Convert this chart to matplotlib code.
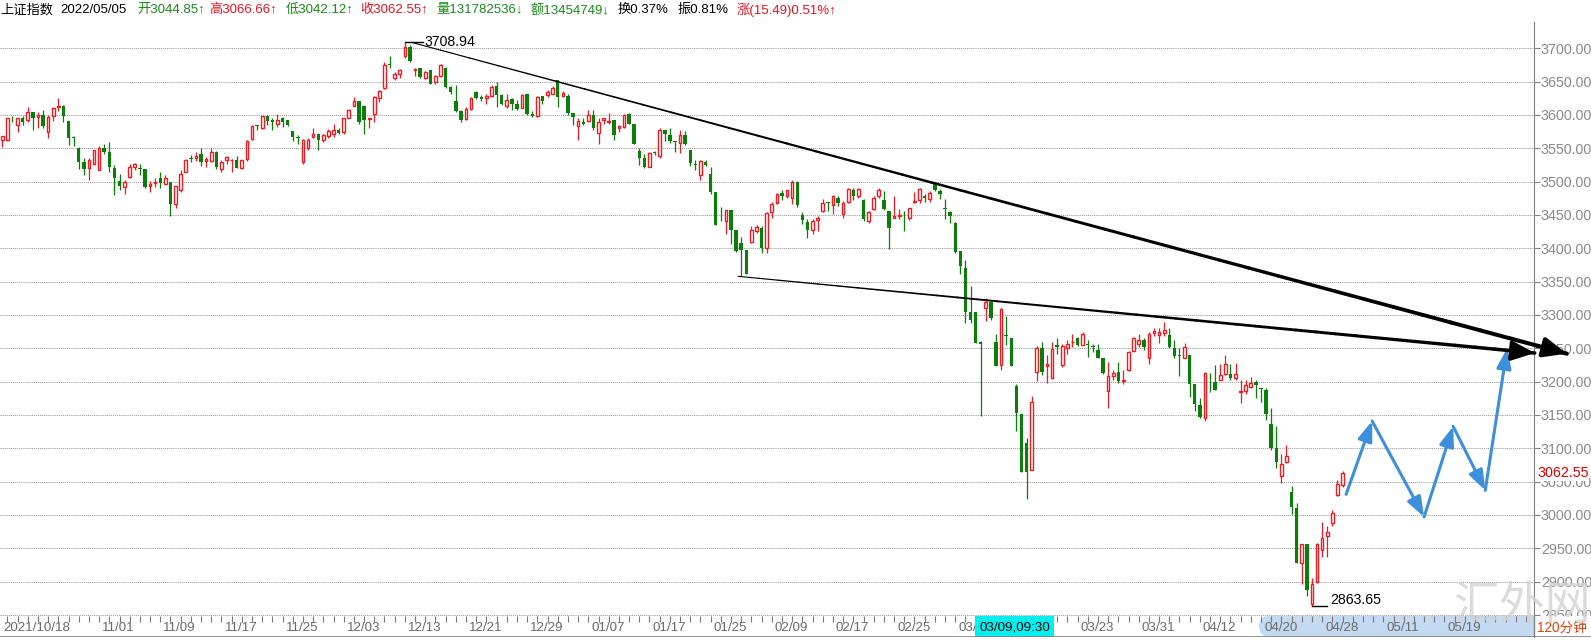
import numpy as np
import matplotlib.pyplot as plt
from matplotlib.collections import LineCollection
from matplotlib.patches import Rectangle, Ellipse

plt.rcParams['font.family'] = ['Liberation Sans', 'Noto Sans CJK SC', 'DejaVu Sans']

# 120-minute bars of the SSE composite
opens = [3562, 3562, 3596, 3585, 3596, 3592, 3604, 3597, 3600, 3575,
         3599, 3612, 3614, 3591, 3567, 3551, 3529, 3520, 3526, 3518,
         3551, 3544, 3521, 3501, 3492, 3507, 3522, 3521, 3519, 3494,
         3498, 3506, 3497, 3499, 3466, 3487, 3515, 3535, 3535, 3542,
         3531, 3531, 3544, 3519, 3532, 3532, 3533, 3520, 3534, 3564,
         3585, 3581, 3599, 3592, 3586, 3595, 3592, 3576, 3567, 3530,
         3550, 3567, 3571, 3562, 3569, 3571, 3578, 3575, 3596, 3614,
         3621, 3613, 3594, 3602, 3626, 3640, 3676, 3655, 3661, 3688,
         3702, 3667, 3670, 3656, 3667, 3650, 3659, 3671, 3642, 3621,
         3606, 3594, 3609, 3634, 3627, 3626, 3629, 3644, 3630, 3613,
         3624, 3617, 3611, 3631, 3601, 3598, 3628, 3630, 3632, 3652,
         3629, 3628, 3603, 3583, 3590, 3591, 3600, 3573, 3592, 3590,
         3592, 3581, 3582, 3602, 3587, 3546, 3535, 3522, 3544, 3538,
         3577, 3570, 3561, 3558, 3570, 3548, 3527, 3510, 3530, 3511,
         3485, 3443, 3441, 3457, 3427, 3408, 3397, 3410, 3426, 3431,
         3401, 3455, 3468, 3483, 3478, 3475, 3500, 3450, 3440, 3428,
         3443, 3456, 3469, 3465, 3476, 3451, 3469, 3488, 3478, 3473,
         3441, 3459, 3478, 3473, 3456, 3445, 3448, 3449, 3446, 3470,
         3473, 3478, 3474, 3496, 3486, 3460, 3455, 3438, 3396, 3371,
         3305, 3304, 3259, 3311, 3320, 3259, 3225, 3270, 3265, 3193,
         3151, 3108, 3068, 3215, 3251, 3223, 3206, 3255, 3225, 3250,
         3259, 3265, 3255, 3256, 3254, 3247, 3235, 3186, 3209, 3215,
         3201, 3217, 3246, 3257, 3263, 3236, 3273, 3270, 3273, 3270,
         3250, 3240, 3236, 3240, 3196, 3165, 3145, 3200, 3200, 3203,
         3211, 3211, 3206, 3185, 3186, 3192, 3200, 3191, 3187, 3137,
         3100, 3059, 3079, 3034, 3011, 2928, 2956, 2867, 2900, 2947,
         2968, 2988, 3030, 3044.85]
highs = [3569, 3596, 3598, 3596, 3598, 3612, 3605, 3605, 3608, 3600,
         3612, 3626, 3615, 3591, 3569, 3552, 3535, 3536, 3548, 3554,
         3556, 3560, 3525, 3512, 3503, 3526, 3528, 3526, 3519, 3501,
         3505, 3515, 3510, 3500, 3494, 3517, 3534, 3540, 3544, 3550,
         3537, 3550, 3546, 3532, 3539, 3534, 3538, 3533, 3562, 3585,
         3585, 3599, 3600, 3595, 3602, 3597, 3592, 3576, 3570, 3564,
         3565, 3581, 3572, 3571, 3579, 3586, 3580, 3596, 3609, 3627,
         3621, 3615, 3596, 3628, 3637, 3680, 3689, 3664, 3669, 3708.94,
         3705, 3671, 3671, 3666, 3668, 3660, 3676, 3672, 3644, 3645,
         3607, 3612, 3627, 3636, 3630, 3632, 3645, 3650, 3631, 3632,
         3625, 3622, 3631, 3631, 3606, 3628, 3629, 3638, 3643, 3653,
         3636, 3631, 3603, 3595, 3595, 3608, 3608, 3595, 3596, 3603,
         3592, 3585, 3601, 3603, 3587, 3551, 3542, 3545, 3546, 3581,
         3578, 3580, 3561, 3577, 3576, 3548, 3533, 3533, 3532, 3522,
         3485, 3462, 3458, 3457, 3427, 3417, 3398, 3433, 3435, 3433,
         3455, 3470, 3483, 3488, 3488, 3502, 3501, 3455, 3444, 3444,
         3448, 3474, 3470, 3480, 3478, 3471, 3490, 3490, 3490, 3474,
         3456, 3478, 3490, 3486, 3456, 3479, 3459, 3456, 3461, 3485,
         3490, 3481, 3486, 3500, 3489, 3474, 3456, 3439, 3396, 3383,
         3344, 3304, 3261, 3325, 3321, 3271, 3310, 3298, 3265, 3196,
         3151, 3116, 3178, 3254, 3259, 3240, 3259, 3265, 3256, 3262,
         3272, 3267, 3275, 3262, 3257, 3256, 3235, 3230, 3218, 3230,
         3218, 3246, 3267, 3271, 3265, 3275, 3280, 3280, 3290, 3280,
         3263, 3250, 3258, 3240, 3196, 3175, 3215, 3213, 3225, 3226,
         3240, 3226, 3228, 3202, 3202, 3207, 3202, 3191, 3190, 3160,
         3133, 3091, 3105, 3044, 3018, 2957, 2957, 2906, 2958, 2990,
         2984, 3008, 3052, 3066.66]
lows = [3552, 3561, 3590, 3575, 3585, 3590, 3578, 3580, 3581, 3565,
        3591, 3606, 3590, 3555, 3554, 3519, 3510, 3503, 3525, 3517,
        3542, 3515, 3480, 3487, 3482, 3505, 3518, 3510, 3491, 3485,
        3492, 3490, 3496, 3449, 3460, 3484, 3514, 3529, 3531, 3523,
        3522, 3530, 3519, 3515, 3527, 3514, 3520, 3519, 3531, 3563,
        3577, 3579, 3585, 3578, 3582, 3582, 3584, 3561, 3556, 3527,
        3547, 3565, 3547, 3560, 3565, 3567, 3571, 3572, 3595, 3614,
        3587, 3572, 3580, 3590, 3620, 3639, 3671, 3652, 3656, 3686,
        3679, 3659, 3656, 3654, 3646, 3646, 3657, 3641, 3631, 3604,
        3590, 3592, 3608, 3624, 3621, 3617, 3627, 3612, 3615, 3611,
        3607, 3607, 3610, 3600, 3597, 3597, 3616, 3627, 3631, 3612,
        3627, 3600, 3585, 3563, 3585, 3590, 3578, 3557, 3586, 3587,
        3563, 3575, 3581, 3586, 3556, 3525, 3521, 3522, 3540, 3535,
        3561, 3558, 3545, 3543, 3555, 3523, 3517, 3502, 3523, 3481,
        3435, 3441, 3421, 3406, 3395, 3358, 3361, 3408, 3423, 3393,
        3393, 3446, 3467, 3472, 3475, 3467, 3462, 3436, 3415, 3421,
        3426, 3454, 3456, 3451, 3464, 3446, 3468, 3473, 3475, 3441,
        3438, 3458, 3475, 3458, 3399, 3445, 3444, 3426, 3443, 3468,
        3468, 3470, 3470, 3486, 3474, 3444, 3438, 3393, 3361, 3288,
        3288, 3258, 3148, 3291, 3293, 3223, 3218, 3255, 3223, 3126,
        3065, 3024, 3068, 3201, 3210, 3198, 3204, 3242, 3222, 3241,
        3252, 3253, 3255, 3237, 3245, 3235, 3211, 3161, 3202, 3198,
        3197, 3216, 3246, 3252, 3247, 3227, 3268, 3258, 3268, 3250,
        3236, 3208, 3235, 3177, 3156, 3145, 3141, 3185, 3187, 3202,
        3210, 3202, 3202, 3168, 3182, 3191, 3175, 3170, 3142, 3097,
        3070, 3048, 3078, 3001, 2928, 2896, 2878, 2863.65, 2898, 2937,
        2937, 2984, 3028, 3042.12]
closes = [3569, 3595, 3595, 3595, 3589, 3604, 3596, 3600, 3584, 3597,
          3611, 3614, 3599, 3566, 3565, 3530, 3519, 3532, 3547, 3551,
          3545, 3522, 3506, 3494, 3500, 3522, 3527, 3519, 3492, 3496,
          3500, 3498, 3506, 3466, 3493, 3512, 3532, 3534, 3539, 3530,
          3534, 3544, 3522, 3529, 3537, 3533, 3521, 3532, 3561, 3583,
          3583, 3598, 3591, 3590, 3592, 3589, 3585, 3567, 3565, 3562,
          3563, 3571, 3562, 3570, 3576, 3577, 3573, 3595, 3607, 3621,
          3589, 3592, 3595, 3627, 3636, 3675, 3675, 3661, 3667, 3702,
          3681, 3669, 3657, 3665, 3647, 3659, 3675, 3642, 3634, 3606,
          3592, 3609, 3626, 3626, 3624, 3628, 3642, 3630, 3617, 3623,
          3617, 3609, 3630, 3601, 3599, 3627, 3621, 3635, 3641, 3627,
          3633, 3603, 3597, 3591, 3587, 3600, 3581, 3590, 3595, 3591,
          3570, 3583, 3600, 3587, 3556, 3535, 3522, 3543, 3543, 3577,
          3571, 3561, 3559, 3570, 3556, 3528, 3525, 3531, 3525, 3485,
          3435, 3442, 3457, 3427, 3396, 3397, 3362, 3427, 3432, 3401,
          3453, 3467, 3481, 3478, 3487, 3500, 3465, 3442, 3428, 3441,
          3446, 3468, 3468, 3478, 3468, 3468, 3489, 3478, 3489, 3444,
          3455, 3476, 3488, 3459, 3430, 3449, 3450, 3448, 3460, 3471,
          3489, 3476, 3483, 3487, 3481, 3459, 3448, 3395, 3373, 3305,
          3293, 3258, 3256, 3319, 3296, 3224, 3309, 3268, 3223, 3153,
          3065, 3065, 3170, 3251, 3214, 3226, 3249, 3252, 3254, 3257,
          3260, 3255, 3271, 3255, 3252, 3236, 3213, 3208, 3213, 3201,
          3203, 3245, 3266, 3263, 3252, 3272, 3276, 3274, 3277, 3252,
          3238, 3238, 3252, 3196, 3167, 3147, 3213, 3199, 3188, 3210,
          3227, 3206, 3211, 3186, 3195, 3198, 3195, 3189, 3152, 3100,
          3080, 3077, 3088, 3012, 2928, 2956, 2887, 2896, 2957, 2965,
          2975, 3003, 3047, 3062.55]

price_ticks = [2850, 2900, 2950, 3000, 3050, 3100, 3150, 3200, 3250,
               3300, 3350, 3400, 3450, 3500, 3550, 3600, 3650, 3700]
date_labels = ['2021/10/18', '11/01', '11/09', '11/17', '11/25', '12/03',
               '12/13', '12/21', '12/29', '01/07', '01/17', '01/25',
               '02/09', '02/17', '02/25', '03/07', '03/23', '03/31',
               '04/12', '04/20', '04/28', '05/11', '05/19']
date_bars = [-0.4, 19, 31, 43, 55, 67, 79, 91, 103, 115, 127, 139,
             151, 163, 175, 187, 211, 223, 235, 247, 259, 271, 283]

# hand-drawn marks on the chart (bar index, price)
upper_line = [(80.3, 3709), (309.0, 3238)]
lower_line = [(144.4, 3358), (302.7, 3241)]
blue_x = [263.7, 268.8, 279.0, 284.7, 291.0, 295.3]
blue_y = [3031, 3141, 2997, 3133, 3037, 3250]

header = [(0, '上证指数', 'black'), (60, '2022/05/05', 'black'),
          (137, '开3044.85↑', '#1a8a1a'), (209, '高3066.66↑', '#e8141e'),
          (286, '低3042.12↑', '#1a8a1a'), (360, '收3062.55↑', '#e8141e'),
          (436, '量131782536↓', '#1a8a1a'), (531, '额13454749↓', '#1a8a1a'),
          (618, '换0.37%', 'black'), (678, '振0.81%', 'black'),
          (737, '涨(15.49)0.51%↑', '#e8141e')]

RED = '#ec1c24'
GREEN = '#0b7d0b'
BLUE = '#3d8edb'
GRAY = '#8a8a8a'

W, H = 1591, 640
PX = 5.096          # pixels per bar
X0 = -0.45

fig = plt.figure(figsize=(W / 100, H / 100), dpi=100)
ax = fig.add_axes([0, 3 / H, 1534 / W, 615 / H])
ax.set_xlim(X0, X0 + 1534 / PX)
ax.set_ylim(2817, 3739.5)

o = np.array(opens, float)
h = np.array(highs, float)
l = np.array(lows, float)
c = np.array(closes, float)
idx = np.arange(len(c))
up = c >= o
dn = ~up

# candles
ax.vlines(idx[dn], l[dn], h[dn], color=GREEN, lw=0.9, zorder=2)
ax.bar(idx[dn], o[dn] - c[dn], bottom=c[dn], width=0.68, color=GREEN,
       lw=0, zorder=3)
ax.vlines(idx[up], c[up], h[up], color=RED, lw=0.9, zorder=2)
ax.vlines(idx[up], l[up], o[up], color=RED, lw=0.9, zorder=2)
ax.bar(idx[up], np.maximum(c[up] - o[up], 0.4), bottom=o[up], width=0.52,
       facecolor='white', edgecolor=RED, lw=1.0, zorder=3)

# grid and right axis
ax.grid(axis='y', linestyle=(0, (1, 1)), color='#9a9a9a', lw=0.75)
ax.set_axisbelow(True)
ax.yaxis.tick_right()
ax.set_yticks(price_ticks)
ax.set_yticklabels([f'{v:.2f}' for v in price_ticks])
ax.tick_params(axis='y', length=4, width=0.8, color='#808080',
               labelcolor=GRAY, labelsize=10.3, pad=1)
ax.tick_params(axis='x', bottom=False, labelbottom=False)
for s in ['top', 'left', 'bottom']:
    ax.spines[s].set_visible(False)
ax.spines['right'].set_color('#808080')
ax.text(1 + 3 / 1534, closes[-1], f'{closes[-1]:.2f}', color='#e00000',
        fontsize=10.3, va='center', ha='left',
        transform=ax.get_yaxis_transform(),
        bbox=dict(facecolor='white', edgecolor='none', pad=0.5))

# high / low marks
hi = int(np.argmax(h))
lo = int(np.argmin(l))
ax.plot([hi, hi + 3.5], [h[hi], h[hi]], color='black', lw=1)
ax.text(hi + 3.8, h[hi], f'{h[hi]:.2f}', fontsize=10.2, va='center')
ax.plot([lo, lo + 3], [l[lo], l[lo]], color='black', lw=1)
ax.text(lo + 3.6, l[lo] + 9, f'{l[lo]:.2f}', fontsize=10.2, va='center')


def taper(p0, p1, w0, w1, n=40):
    t = np.linspace(0, 1, n + 1)
    xs = p0[0] + (p1[0] - p0[0]) * t
    ys = p0[1] + (p1[1] - p0[1]) * t
    segs = [[(xs[i], ys[i]), (xs[i + 1], ys[i + 1])] for i in range(n)]
    lc = LineCollection(segs, linewidths=np.linspace(w0, w1, n),
                        colors='black', capstyle='round', clip_on=False,
                        zorder=6)
    ax.add_collection(lc)
    ax.annotate('', xy=p1, xytext=(p1[0] - 3, p1[1] + (p0[1] - p1[1]) * 3 / (p1[0] - p0[0])),
                arrowprops=dict(arrowstyle='-|>,head_length=0.7,head_width=0.3',
                                color='black', lw=w1, mutation_scale=20,
                                shrinkA=0, shrinkB=0),
                annotation_clip=False, zorder=6)


taper(upper_line[0], (upper_line[1][0] - 2, upper_line[1][1] + 4), 0.8, 3.0)
taper(lower_line[0], (lower_line[1][0] - 2, lower_line[1][1] + 2), 0.8, 2.6)

for i in range(len(blue_x) - 1):
    ax.annotate('', xy=(blue_x[i + 1], blue_y[i + 1]),
                xytext=(blue_x[i], blue_y[i]),
                arrowprops=dict(arrowstyle='-|>,head_length=0.6,head_width=0.22',
                                color=BLUE, lw=2.2, mutation_scale=20,
                                shrinkA=0, shrinkB=0),
                annotation_clip=False, zorder=5)

# date strip
sx = fig.add_axes([0, 3 / H, 1, 21 / H])
sx.set_xlim(X0, X0 + W / PX)
sx.set_ylim(0, 1)
sx.axis('off')
sx.add_patch(Rectangle((X0, 0), W / PX, 1, color='white', zorder=0))
blue_left = X0 + 1268 / PX
sx.add_patch(Rectangle((blue_left, 0), X0 + 1534 / PX - blue_left, 1,
                       color='#c4daf2', lw=0, zorder=1))
sx.add_patch(Ellipse((blue_left, 0.5), 18 / PX, 1.0, color='#c4daf2',
                     lw=0, zorder=1))
ticks = np.arange(-1, 300, 2)
sx.vlines(ticks, 0.72, 1.0, color='#777777', lw=0.8, zorder=2)
for lab, b in zip(date_labels, date_bars):
    sx.text(b + 0.6, 0.42, lab, fontsize=9.6, color='#6a6a6a', va='center',
            ha='left', family=['Liberation Sans Narrow', 'Liberation Sans'],
            zorder=3)
b0 = 191
sx.add_patch(Rectangle((b0 - 0.1, 0.02), 79 / PX, 0.96, color='#00f0f0',
                       lw=0, zorder=4))
sx.text(b0 - 0.1 + 39.5 / PX, 0.45, '03/09,09:30', fontsize=9.6,
        color='black', ha='center', va='center',
        family=['Liberation Sans Narrow', 'Liberation Sans'], zorder=5)
sx.axhline(0.0, color='#808080', lw=1.2, zorder=6)
sx.axvline(X0 + 1534 / PX, color='#808080', lw=1, zorder=6)
sx.text(X0 + 1562 / PX, 0.45, '120分钟', fontsize=9.8, color='#e0420a',
        ha='center', va='center', zorder=6)

# header line
for xpx, txt, col in header:
    fig.text(xpx / W, 1 - 10 / H, txt, color=col, fontsize=9.5,
             ha='left', va='center')

# watermark
fig.text(1522 / W, 1 - 607 / H, '汇外网', fontsize=33, color='#d2d2d2',
         alpha=0.8, ha='center', va='center', zorder=10)

fig.savefig('out.png', dpi=100)
